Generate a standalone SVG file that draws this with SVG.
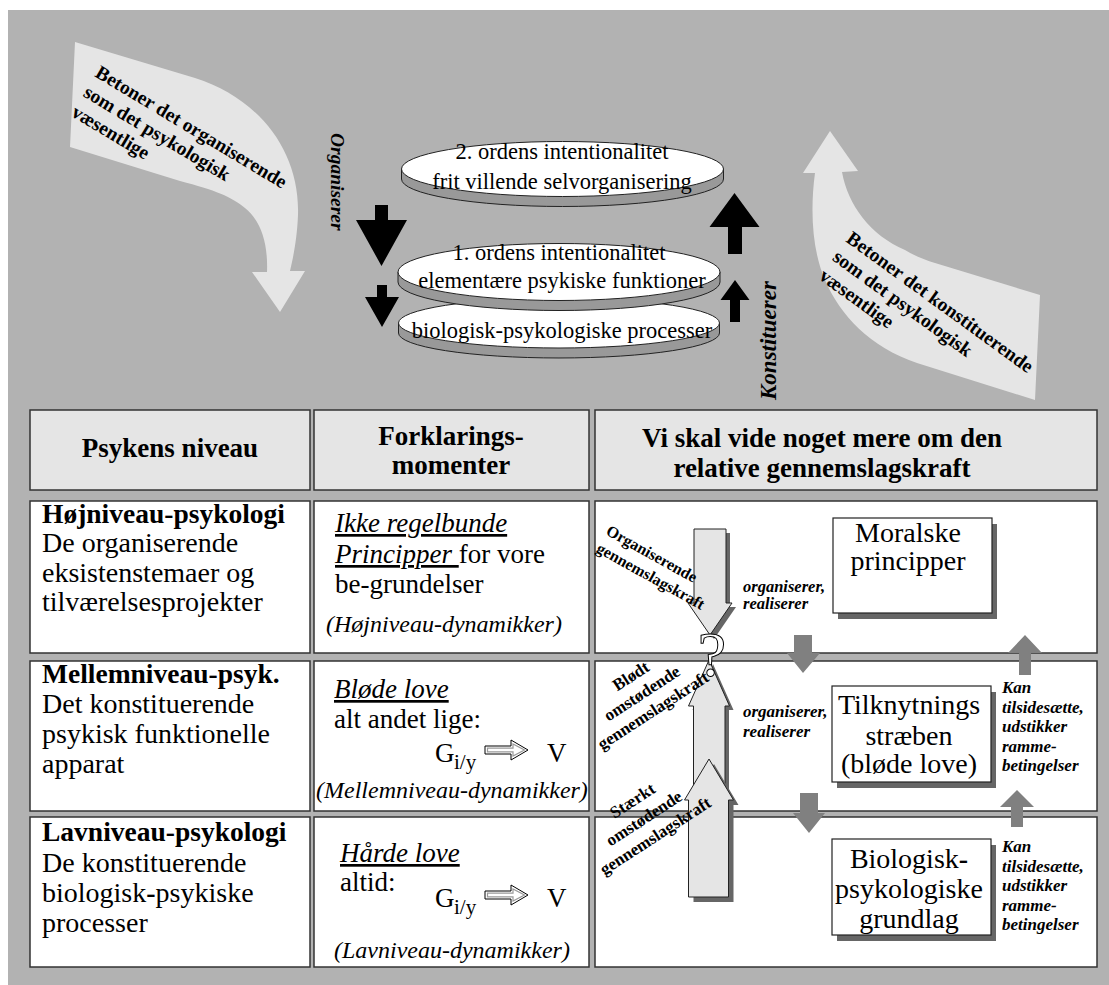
<svg xmlns="http://www.w3.org/2000/svg" width="1109" height="985" viewBox="0 0 1109 985">
<style>
.t{font-family:"Liberation Serif","Times New Roman",serif;fill:#000}
.b{font-weight:bold}
.i{font-style:italic}
.bi{font-weight:bold;font-style:italic}
.cell{fill:#fff;stroke:#333;stroke-width:1.5}
.head{fill:#e5e5e5;stroke:#333;stroke-width:1.5}
.light{fill:#e5e5e5}
.blk{fill:#000}
.gry{fill:#808080}
.shadow{fill:#666}
.bx{fill:#fff;stroke:#222;stroke-width:1.2}
.arr{fill:#e5e5e5;stroke:#222;stroke-width:1}
.side{fill:#999;stroke:#222;stroke-width:1}
.face{fill:#fff;stroke:#222;stroke-width:1}
.u{text-decoration:underline}
</style>
<rect x="0" y="0" width="1109" height="985" fill="#fff"/>
<rect x="8" y="10" width="1101" height="975" fill="#b2b2b2"/>

<!-- big curved arrows -->
<g id="curved-left">
<path class="light" d="M75,42 L195,78 C258,98 300,150 298,215 C297,240 293,258 290,271 L305,271 L280,312 L252,272 L267,272 C268,245 262,222 245,208 C232,197 215,190 180,181 L70,147 Z"/>
<g class="t b" font-size="19.5" transform="translate(94,76) rotate(31)">
<text x="0" y="0">Betoner det organiserende</text>
<text x="0" y="23">som det psykologisk</text>
<text x="0" y="46">væsentlige</text>
</g>
</g>
<g id="curved-right">
<path class="light" d="M1040,295 L1035,400 L917,363 C870,347 840,315 825,280 C812,250 810,210 815,173 L803,173 L830,131 L858,171 L842,172 C848,205 870,235 905,250 C915,256 925,260 935,263 Z"/>
<g class="t b" font-size="19.5" transform="translate(845,241) rotate(36)">
<text x="0" y="0">Betoner det konstituerende</text>
<text x="0" y="23">som det psykologisk</text>
<text x="0" y="46">væsentlige</text>
</g>
</g>

<!-- disks -->
<g id="disk-bottom">
<path class="side" d="M398.5,323 L398.5,333 A160.5,25 0 0 0 719.5,333 L719.5,323 Z"/>
<ellipse class="face" cx="559" cy="323" rx="160.5" ry="25"/>
<text class="t" x="562" y="338" font-size="22.5" text-anchor="middle">biologisk-psykologiske processer</text>
</g>
<g id="disk-middle">
<path class="side" d="M398,272 L398,282 A161,28.5 0 0 0 720,282 L720,272 Z"/>
<ellipse class="face" cx="559" cy="272" rx="161" ry="28.5"/>
<text class="t" x="559" y="260" font-size="22.5" text-anchor="middle">1. ordens intentionalitet</text>
<text class="t" x="562" y="288" font-size="22.5" text-anchor="middle">elementære psykiske funktioner</text>
</g>
<g id="disk-top">
<path class="side" d="M401.5,169 L401.5,179 A161,27.5 0 0 0 723.5,179 L723.5,169 Z"/>
<ellipse class="face" cx="562.5" cy="169" rx="161" ry="27.5"/>
<text class="t" x="562" y="159" font-size="22.5" text-anchor="middle">2. ordens intentionalitet</text>
<text class="t" x="562" y="189" font-size="22.5" text-anchor="middle">frit villende selvorganisering</text>
</g>

<!-- top connectors -->
<g id="top-connectors">
<polygon class="blk" points="375,205 388,205 388,220 407,220 381.5,266 356,220 375,220"/>
<polygon class="blk" points="377,285 387,285 387,297 399,297 382,327 365,297 377,297"/>
<polygon class="blk" points="734.5,193 759.5,227 742,227 742,254 728,254 728,227 709.5,227"/>
<polygon class="blk" points="735,280 749.5,300 740,300 740,322 730,322 730,300 720.5,300"/>
<text class="t bi" font-size="19.5" transform="translate(331,133) rotate(90)">Organiserer</text>
<text class="t bi" font-size="23" transform="translate(776,400) rotate(-90)">Konstituerer</text>
</g>

<!-- table header -->
<g id="header-1">
<rect class="head" x="30" y="410" width="280" height="80"/>
<text class="t b" x="170" y="457" font-size="27" text-anchor="middle">Psykens niveau</text>
</g>
<g id="header-2">
<rect class="head" x="314" y="410" width="275" height="80"/>
<text class="t b" x="451" y="445" font-size="27" text-anchor="middle">Forklarings-</text>
<text class="t b" x="451" y="474" font-size="27" text-anchor="middle">momenter</text>
</g>
<g id="header-3">
<rect class="head" x="595" y="410" width="502" height="80"/>
<text class="t b" x="822" y="447" font-size="27" text-anchor="middle">Vi skal vide noget mere om den</text>
<text class="t b" x="822" y="477" font-size="27" text-anchor="middle">relative gennemslagskraft</text>
</g>

<!-- column 1 -->
<g id="row1-level">
<rect class="cell" x="30" y="501" width="280" height="152"/>
<text class="t b" x="42" y="523" font-size="27.5">Højniveau-psykologi</text>
<text class="t" x="42" y="552" font-size="28">De organiserende</text>
<text class="t" x="42" y="582" font-size="28">eksistenstemaer og</text>
<text class="t" x="42" y="611" font-size="28">tilværelsesprojekter</text>
</g>
<g id="row2-level">
<rect class="cell" x="30" y="661" width="280" height="150"/>
<text class="t b" x="42" y="683" font-size="27.5">Mellemniveau-psyk.</text>
<text class="t" x="42" y="713" font-size="28">Det konstituerende</text>
<text class="t" x="42" y="743" font-size="28">psykisk funktionelle</text>
<text class="t" x="42" y="773" font-size="28">apparat</text>
</g>
<g id="row3-level">
<rect class="cell" x="30" y="817" width="280" height="150"/>
<text class="t b" x="42" y="841" font-size="27.5">Lavniveau-psykologi</text>
<text class="t" x="42" y="872" font-size="28">De konstituerende</text>
<text class="t" x="42" y="902" font-size="28">biologisk<tspan font-weight="bold">-</tspan>psykiske</text>
<text class="t" x="42" y="932" font-size="28">processer</text>
</g>

<!-- column 2 -->
<g id="row1-moments">
<rect class="cell" x="314" y="501" width="275" height="152"/>
<text class="t i u" x="335" y="532" font-size="27">Ikke regelbunde</text>
<text class="t" x="335" y="563" font-size="27"><tspan class="i u">Principper </tspan>for vore</text>
<text class="t" x="335" y="593" font-size="27">be-grundelser</text>
<text class="t i" x="326" y="632" font-size="24">(Højniveau-dynamikker)</text>
</g>
<g id="row2-moments">
<rect class="cell" x="314" y="661" width="275" height="150"/>
<text class="t i u" x="334" y="698" font-size="27">Bløde love</text>
<text class="t" x="334" y="728" font-size="27">alt andet lige:</text>
<text class="t" x="435" y="762" font-size="27">G</text>
<text class="t" x="454" y="769" font-size="21">i/y</text>
<polygon points="485,746 511,746 511,740 528,750 511,760 511,754 485,754" fill="#fff" stroke="#000" stroke-width="1"/>
<polygon points="487.5,748.2 513,748.2 513,744 524.5,750 513,756 513,751.8 487.5,751.8" fill="#fff" stroke="#999" stroke-width="1.2"/>
<text class="t" x="547" y="762" font-size="27">V</text>
<text class="t i" x="316" y="798" font-size="24">(Mellemniveau-dynamikker)</text>
</g>
<g id="row3-moments">
<rect class="cell" x="314" y="817" width="275" height="150"/>
<text class="t i u" x="340" y="862" font-size="27">Hårde love</text>
<text class="t" x="340" y="891" font-size="27">altid:</text>
<text class="t" x="435" y="907" font-size="27">G</text>
<text class="t" x="454" y="914" font-size="21">i/y</text>
<polygon points="485,891 511,891 511,885 528,895 511,905 511,899 485,899" fill="#fff" stroke="#000" stroke-width="1"/>
<polygon points="487.5,893.2 513,893.2 513,889 524.5,895 513,901 513,896.8 487.5,896.8" fill="#fff" stroke="#999" stroke-width="1.2"/>
<text class="t" x="547" y="907" font-size="27">V</text>
<text class="t i" x="334" y="958" font-size="24">(Lavniveau-dynamikker)</text>
</g>

<!-- column 3 cells -->
<g id="row1-force">
<rect class="cell" x="595" y="501" width="502" height="152"/>
</g>
<g id="row2-force">
<rect class="cell" x="595" y="661" width="502" height="150"/>
</g>
<g id="row3-force">
<rect class="cell" x="595" y="817" width="502" height="150"/>
</g>

<!-- column 3 nodes -->
<g id="box-moralske">
<rect class="shadow" x="838" y="524" width="159" height="95"/>
<rect class="bx" x="833" y="518" width="159" height="95"/>
<text class="t" x="908" y="542" font-size="28" text-anchor="middle">Moralske</text>
<text class="t" x="908" y="570" font-size="28" text-anchor="middle">principper</text>
</g>
<g id="box-tilknytning">
<rect class="shadow" x="837" y="692" width="159" height="96"/>
<rect class="bx" x="832" y="686" width="159" height="96"/>
<text class="t" x="909" y="714" font-size="28" text-anchor="middle">Tilknytnings</text>
<text class="t" x="909" y="745" font-size="28" text-anchor="middle">stræben</text>
<text class="t" x="909" y="773" font-size="28" text-anchor="middle">(bløde love)</text>
</g>
<g id="box-biologisk">
<rect class="shadow" x="837" y="845" width="159" height="96"/>
<rect class="bx" x="832" y="839" width="159" height="96"/>
<text class="t" x="909" y="868" font-size="28" text-anchor="middle">Biologisk<tspan font-weight="bold">-</tspan></text>
<text class="t" x="909" y="898" font-size="28" text-anchor="middle">psykologiske</text>
<text class="t" x="909" y="928" font-size="28" text-anchor="middle">grundlag</text>
</g>

<!-- column 3 connectors -->
<g id="force-connectors">
<polygon class="shadow" points="698,533 730,533 730,607 736,607 714,639 692,607 698,607"/>
<polygon class="arr" points="694,529 726,529 726,603 732,603 710,635 688,603 694,603"/>
<polygon class="shadow" points="713,664 733.5,710 729,710 729,805 697.5,805 697.5,710 692.5,710"/>
<polygon class="arr" points="709,660 729.5,706 725,706 725,805 693.5,805 693.5,706 688.5,706"/>
<polygon class="shadow" points="714,764 738.5,805 733.5,805 733.5,902 693.5,902 693.5,805 689.5,805"/>
<polygon class="arr" points="709,759 733.5,800 728.5,800 728.5,897 688.5,897 688.5,800 684.5,800"/>
<text class="t" x="712" y="676" font-size="64" text-anchor="middle" stroke="#000" stroke-width="1" style="fill:#fff">?</text>

<polygon class="gry" points="794,635 812,635 812,653 820,653 803,673 787,653 794,653"/>
<polygon class="gry" points="1025,635 1042,653 1031,653 1031,675 1019,675 1019,653 1008,653"/>
<polygon class="gry" points="800,793 818,793 818,813 825,813 809,833 793,813 800,813"/>
<polygon class="gry" points="1017,790 1034,807 1023,807 1023,827 1011,827 1011,807 1000,807"/>

<text class="t bi" x="743" y="592" font-size="16.5">organiserer,</text>
<text class="t bi" x="743" y="609" font-size="16.5">realiserer</text>
<text class="t bi" x="743" y="717" font-size="17">organiserer,</text>
<text class="t bi" x="743" y="737" font-size="17">realiserer</text>

<g class="t bi" font-size="17">
<text x="1002" y="693">Kan</text>
<text x="1002" y="713">tilsidesætte,</text>
<text x="1002" y="732">udstikker</text>
<text x="1002" y="752">ramme-</text>
<text x="1002" y="771">betingelser</text>
<text x="1002" y="852">Kan</text>
<text x="1002" y="872">tilsidesætte,</text>
<text x="1002" y="891">udstikker</text>
<text x="1002" y="911">ramme-</text>
<text x="1002" y="930">betingelser</text>
</g>

<g class="t b" font-size="16" transform="translate(605,534) rotate(29)">
<text x="0" y="0">Organiserende</text>
<text x="0" y="20">gennemslagskraft</text>
</g>
<g class="t b" font-size="17" text-anchor="middle" transform="translate(645,698) rotate(-33)">
<text x="0" y="-20.5">Blødt</text>
<text x="0" y="0">omstødende</text>
<text x="0" y="20.5">gennemslagskraft</text>
</g>
<g class="t b" font-size="17" text-anchor="middle" transform="translate(647,823) rotate(-33)">
<text x="0" y="-21">Stærkt</text>
<text x="0" y="0">omstødende</text>
<text x="0" y="21">gennemslagskraft</text>
</g>
</g>
</svg>
